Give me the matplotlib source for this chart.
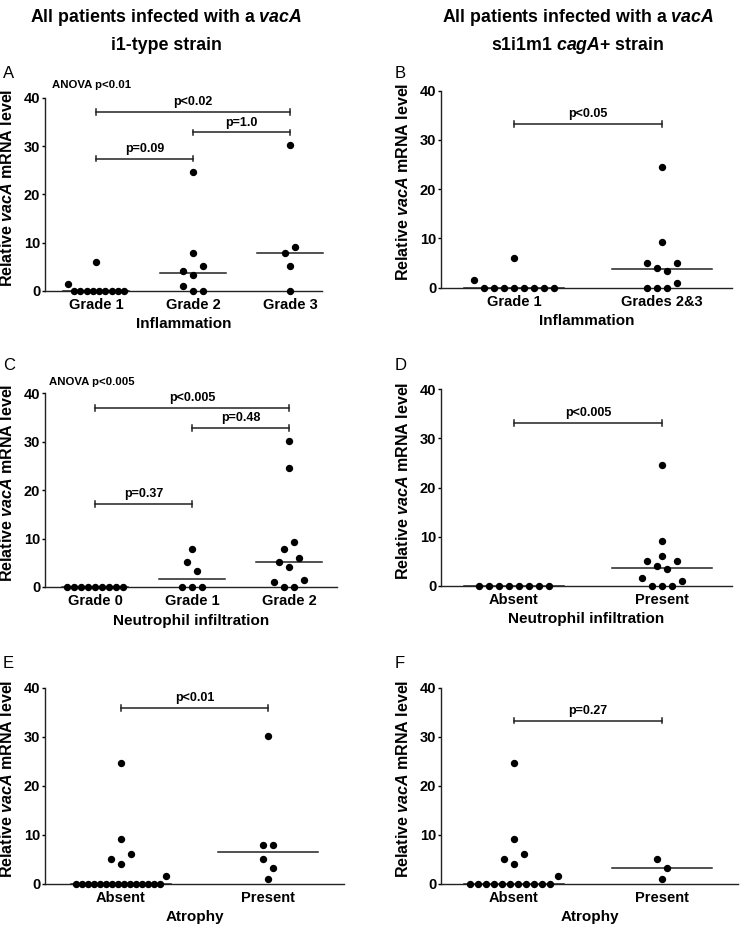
import numpy as np
import matplotlib
matplotlib.use('Agg')
import matplotlib.pyplot as plt

plt.rcParams['font.family'] = ['Liberation Sans', 'DejaVu Sans']
plt.rcParams['font.weight'] = 'bold'
plt.rcParams['mathtext.fontset'] = 'custom'
plt.rcParams['mathtext.it'] = 'Liberation Sans:italic:bold'
plt.rcParams['mathtext.rm'] = 'Liberation Sans:bold'
plt.rcParams['mathtext.bf'] = 'Liberation Sans:bold'

W, H = 742, 926

# relative vacA mRNA level
# A: inflammation, i1 strains
infl_labels = ['Grade 1', 'Grade 2', 'Grade 3']
infl_g1 = [1.5, 0, 0, 0, 0, 0, 0, 0, 0, 0, 6.0]
infl_g2 = [1.0, 0, 0, 4.1, 3.3, 5.1, 7.9, 24.6]
infl_g3 = [0, 5.1, 7.9, 9.2, 30.2]
# B: inflammation, s1i1m1 cagA+ strains
infl2_labels = ['Grade 1', 'Grades 2&3']
infl2_g1 = [1.5, 0, 0, 0, 0, 0, 0, 0, 0, 6.0]
infl2_g23 = [0, 0, 0, 1.0, 5.1, 4.1, 3.3, 5.1, 9.2, 24.6]
# C: neutrophil infiltration, i1 strains
neut_labels = ['Grade 0', 'Grade 1', 'Grade 2']
neut_g0 = [0, 0, 0, 0, 0, 0, 0, 0, 0]
neut_g1 = [0, 0, 0, 5.1, 3.3, 7.9]
neut_g2 = [1.0, 0, 0, 1.5, 5.1, 4.1, 6.0, 7.9, 9.2, 24.6, 30.2]
# D: neutrophil infiltration, s1i1m1 cagA+ strains
neut2_labels = ['Absent', 'Present']
neut2_abs = [0, 0, 0, 0, 0, 0, 0, 0]
neut2_pres = [1.5, 0, 0, 0, 1.0, 5.1, 4.1, 3.3, 5.1, 6.0, 9.2, 24.6]
# E: atrophy, i1 strains
atro_labels = ['Absent', 'Present']
atro_abs = [0] * 15 + [1.5, 5.1, 4.1, 6.0, 9.2, 24.6]
atro_pres = [1.0, 5.1, 3.3, 7.9, 7.9, 30.2]
# F: atrophy, s1i1m1 cagA+ strains
atro2_abs = [0] * 11 + [1.5, 5.1, 4.1, 6.0, 9.2, 24.6]
atro2_pres = [1.0, 5.1, 3.3]

fig = plt.figure(figsize=(W / 100, H / 100), dpi=100)


def swarm(vals, catpx, bin_w=2.0):
    # spread points sharing a row evenly around the category centre
    vals = np.asarray(vals, float)
    order = np.argsort(vals, kind='stable')
    rows = []
    for i in order:
        if rows and vals[i] - vals[rows[-1][0]] < bin_w:
            rows[-1].append(i)
        else:
            rows.append([i])
    offs = np.zeros(len(vals))
    for r in rows:
        r = sorted(r)
        n = len(r)
        step = min(10.0, 0.65 * catpx / n) / catpx
        for k, i in enumerate(r):
            offs[i] = (k - (n - 1) / 2) * step
    return offs


def panel(box, xlim, groups, labels, xlabel, bars):
    l, r, t, b = box
    ax = fig.add_axes([l / W, 1 - b / H, (r - l) / W, (b - t) / H])
    catpx = (r - l) / (xlim[1] - xlim[0])
    for i, g in enumerate(groups):
        x = i + swarm(g, catpx)
        ax.plot(x, g, 'o', color='black', ms=5.3, mew=0, clip_on=False, zorder=3)
        m = np.median(g)
        ax.plot([i - 0.34, i + 0.34], [m, m], color='#222222', lw=1.1,
                clip_on=False, zorder=2)
    for x1, x2, y, txt in bars:
        ax.plot([x1, x2], [y, y], color='#222222', lw=1.1)
        ax.plot([x1, x1], [y - 0.6, y + 0.6], color='#222222', lw=1.1)
        ax.plot([x2, x2], [y - 0.6, y + 0.6], color='#222222', lw=1.1)
        ax.text((x1 + x2) / 2, y + 0.8, txt, ha='center', va='bottom',
                fontsize=9, fontweight='bold')
    ax.set_xlim(*xlim)
    ax.set_ylim(0, 40)
    ax.set_yticks([0, 10, 20, 30, 40])
    ax.set_xticks(range(len(labels)))
    ax.set_xticklabels(labels)
    for s in ['top', 'right']:
        ax.spines[s].set_visible(False)
    for s in ['left', 'bottom']:
        ax.spines[s].set_linewidth(1.0)
        ax.spines[s].set_color('#222222')
    ax.tick_params(axis='x', length=0, pad=5, labelsize=10.5)
    ax.tick_params(axis='y', length=2.5, width=1, pad=1, labelsize=10.5)
    ax.set_xlabel(xlabel, fontsize=11, fontweight='bold', labelpad=4)
    ax.set_ylabel(r'Relative $\it{vacA}$ mRNA level', fontsize=11.5,
                  fontweight='bold')
    ax.yaxis.set_label_coords(-30 / (r - l), 0.5 + 7 / (b - t))
    return ax


panel((45, 322, 97.7, 291), (-0.526, 2.33), [infl_g1, infl_g2, infl_g3],
      infl_labels, 'Inflammation',
      [(0, 2, 37.0, 'p<0.02'), (1, 2, 32.8, 'p=1.0'), (0, 1, 27.4, 'p=0.09')])
panel((441, 732, 90.7, 287.7), (-0.493, 1.473), [infl2_g1, infl2_g23],
      infl2_labels, 'Inflammation', [(0, 1, 33.2, 'p<0.05')])
panel((45, 337, 393.3, 587), (-0.515, 2.495), [neut_g0, neut_g1, neut_g2],
      neut_labels, 'Neutrophil infiltration',
      [(0, 2, 36.9, 'p<0.005'), (1, 2, 32.8, 'p=0.48'), (0, 1, 17.1, 'p=0.37')])
panel((441, 732, 389.3, 585.7), (-0.493, 1.473), [neut2_abs, neut2_pres],
      neut2_labels, 'Neutrophil infiltration', [(0, 1, 33.1, 'p<0.005')])
panel((45, 344, 687.7, 883.7), (-0.517, 1.517), [atro_abs, atro_pres],
      atro_labels, 'Atrophy', [(0, 1, 35.8, 'p<0.01')])
panel((441, 738, 687.7, 883.7), (-0.493, 1.514), [atro2_abs, atro2_pres],
      atro_labels, 'Atrophy', [(0, 1, 33.3, 'p=0.27')])

# column titles
tsize = 12.8
fig.text(166 / W, 1 - 18 / H, r'All patients infected with a $\it{vacA}$',
         ha='center', va='center', fontsize=tsize, fontweight='bold')
fig.text(166 / W, 1 - 45 / H, 'i1-type strain',
         ha='center', va='center', fontsize=tsize, fontweight='bold')
fig.text(578 / W, 1 - 18 / H, r'All patients infected with a $\it{vacA}$',
         ha='center', va='center', fontsize=tsize, fontweight='bold')
fig.text(578 / W, 1 - 45 / H, r's1i1m1 $\it{cagA}$+ strain',
         ha='center', va='center', fontsize=tsize, fontweight='bold')

# panel letters
for letter, (x, y) in zip('ABCDEF', [(3, 74), (395, 73), (3, 366), (395, 366),
                                     (3, 663), (395, 664)]):
    fig.text(x / W, 1 - y / H, letter, ha='left', va='center', fontsize=12,
             fontweight='normal')

fig.text(52 / W, 1 - 85 / H, 'ANOVA p<0.01', ha='left', va='center',
         fontsize=8.2, fontweight='bold')
fig.text(49 / W, 1 - 382 / H, 'ANOVA p<0.005', ha='left', va='center',
         fontsize=8.2, fontweight='bold')

fig.savefig('out.png', dpi=100)
